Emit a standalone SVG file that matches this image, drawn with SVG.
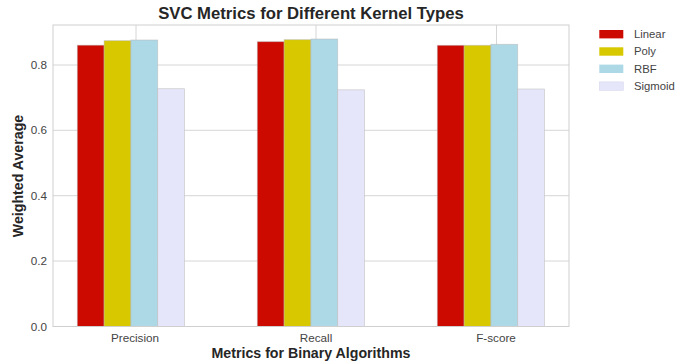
<svg xmlns="http://www.w3.org/2000/svg" width="694" height="364" viewBox="0 0 694 364">
<style>
text{font-family:"Liberation Sans",Arial,sans-serif;fill:#262626}
.tick{font-size:11.7px;fill:#444}
.leg{font-size:11.3px;fill:#444}
.lab{font-size:14.2px;font-weight:bold}
.title{font-size:16.7px;font-weight:bold}
.grid{stroke:#d6d6d6;stroke-width:1}
.bar{stroke:#b8b8b8;stroke-opacity:0.6;stroke-width:0.8}
.lin{fill:#cc0a00}.pol{fill:#d7c800}.rbf{fill:#add8e6}.sig{fill:#e6e6fa}
</style>
<rect width="694" height="364" fill="#fff"/>
<g id="grid">
<line class="grid" x1="53" y1="65" x2="569" y2="65"/>
<line class="grid" x1="53" y1="130.3" x2="569" y2="130.3"/>
<line class="grid" x1="53" y1="195.7" x2="569" y2="195.7"/>
<line class="grid" x1="53" y1="261" x2="569" y2="261"/>
<line class="grid" x1="136" y1="25" x2="136" y2="326.5"/>
<line class="grid" x1="316" y1="25" x2="316" y2="326.5"/>
<line class="grid" x1="496.5" y1="25" x2="496.5" y2="326.5"/>
</g>
<g id="precision">
<rect class="bar lin" x="77.3" y="45.2" width="26.8" height="281.3"/>
<rect class="bar pol" x="104.1" y="40.7" width="26.8" height="285.8"/>
<rect class="bar rbf" x="130.9" y="40" width="26.8" height="286.5"/>
<rect class="bar sig" x="157.7" y="88.7" width="26.8" height="237.8"/>
</g>
<g id="recall">
<rect class="bar lin" x="257.3" y="41.7" width="26.8" height="284.8"/>
<rect class="bar pol" x="284.1" y="39.7" width="26.8" height="286.8"/>
<rect class="bar rbf" x="310.9" y="39" width="26.8" height="287.5"/>
<rect class="bar sig" x="337.7" y="89.8" width="26.8" height="236.7"/>
</g>
<g id="fscore">
<rect class="bar lin" x="437.3" y="45.3" width="26.8" height="281.2"/>
<rect class="bar pol" x="464.1" y="45.3" width="26.8" height="281.2"/>
<rect class="bar rbf" x="490.9" y="44.3" width="26.8" height="282.2"/>
<rect class="bar sig" x="517.7" y="89" width="26.8" height="237.5"/>
</g>
<rect id="frame" x="53" y="25" width="516" height="301.5" fill="none" stroke="#cfcfcf" stroke-width="1"/>
<g id="yticks" text-anchor="end">
<text class="tick" x="47" y="330.5">0.0</text>
<text class="tick" x="47" y="265">0.2</text>
<text class="tick" x="47" y="199.7">0.4</text>
<text class="tick" x="47" y="134.3">0.6</text>
<text class="tick" x="47" y="69">0.8</text>
</g>
<g id="xticks" text-anchor="middle">
<text class="tick" x="135" y="341.5">Precision</text>
<text class="tick" x="316" y="341.5">Recall</text>
<text class="tick" x="496" y="341.5">F-score</text>
</g>
<text class="title" x="311" y="19" text-anchor="middle">SVC Metrics for Different Kernel Types</text>
<text class="lab" x="311" y="358" text-anchor="middle">Metrics for Binary Algorithms</text>
<text class="lab" transform="translate(23,176) rotate(-90)" text-anchor="middle">Weighted Average</text>
<g id="legend">
<rect class="lin" x="599.3" y="30" width="24" height="8.4"/>
<rect class="pol" x="599.3" y="47.3" width="24" height="8.4"/>
<rect class="rbf" x="599.3" y="64.6" width="24" height="8.4"/>
<rect class="sig" x="599.3" y="81.9" width="24" height="8.4" stroke="#d8d8ee" stroke-width="0.6"/>
<text class="leg" x="634" y="38">Linear</text>
<text class="leg" x="634" y="55.3">Poly</text>
<text class="leg" x="634" y="72.6">RBF</text>
<text class="leg" x="634" y="89.9">Sigmoid</text>
</g>
</svg>
